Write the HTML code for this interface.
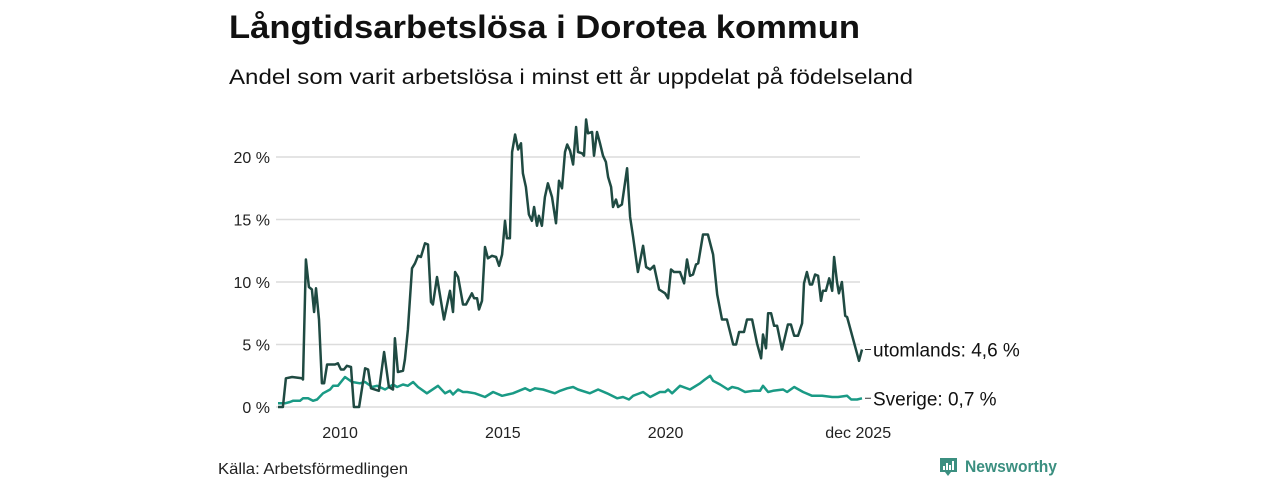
<!DOCTYPE html>
<html><head><meta charset="utf-8"><style>
html,body{margin:0;padding:0;background:#fff;}
svg{display:block;font-family:"Liberation Sans",sans-serif;}
</style></head><body>
<svg id="chart" width="1280" height="480" viewBox="0 0 1280 480">
<text x="229" y="38" font-size="32" font-weight="bold" fill="#111" textLength="631" lengthAdjust="spacingAndGlyphs">Långtidsarbetslösa i Dorotea kommun</text>
<text x="229" y="84" font-size="21" fill="#111" textLength="684" lengthAdjust="spacingAndGlyphs">Andel som varit arbetslösa i minst ett år uppdelat på födelseland</text>
<g id="grid"></g>
<g id="yticks"></g>
<g id="xticks"></g>
<g id="lines"></g>
<g id="labels"></g>
<text x="218" y="474" font-size="16" fill="#222" textLength="190" lengthAdjust="spacingAndGlyphs">Källa: Arbetsförmedlingen</text>
<g>
<path d="M940 458 h17 v14 h-6 l-3 4 l-3 -4 h-5 z" fill="#3b8f80"/>
<rect x="943" y="466" width="2" height="4" fill="#fff"/><rect x="946" y="463" width="2" height="7" fill="#fff"/><rect x="949" y="465" width="2" height="5" fill="#fff"/><rect x="952" y="461" width="2" height="9" fill="#fff"/>
<text x="965" y="472" font-size="17" font-weight="bold" fill="#3b8f80" textLength="92" lengthAdjust="spacingAndGlyphs">Newsworthy</text>
</g>
</svg>
<script>
const yTicks=[0,5,10,15,20];
const yTickLabels=["0 %","5 %","10 %","15 %","20 %"];
const xTickMonths=[24,84,144,215];
const xTickLabels=["2010","2015","2020","dec 2025"];
const foreignMonths=[0,1.8,2.9,5.2,8.8,9.2,10.3,11.4,12.5,13.3,14.0,15.1,16.2,17.0,18.1,21.0,22.1,23.2,24.3,25.4,26.9,28.0,29.9,32.1,33.2,34.3,37.2,39.1,40.9,42.4,43.1,44.2,46.1,46.8,47.9,49.4,50.5,51.6,52.7,54.2,55.3,56.4,57.1,58.6,61.2,63.4,64.5,65.3,66.4,68.2,69.3,71.5,72.3,73.4,74.1,75.2,76.3,77.4,78.9,80.4,81.5,82.6,83.7,84.4,85.5,86.3,87.4,88.5,89.6,90.3,91.4,92.5,93.6,94.4,95.5,96.2,97.3,98.4,99.5,101.0,102.5,103.6,104.7,105.8,106.6,107.7,108.8,109.9,110.6,112.1,112.8,113.6,114.3,115.8,116.5,117.6,118.7,119.8,120.9,121.7,122.8,123.5,124.6,125.4,126.8,128.7,129.8,130.9,132.7,134.6,135.7,137.2,138.6,140.5,142.7,143.8,144.9,146.0,148.2,149.7,150.8,151.9,153.0,154.1,154.9,156.7,158.5,160.4,161.9,163.7,165.5,167.8,168.9,170.0,171.8,172.9,174.8,176.6,178.1,178.8,179.9,180.7,181.8,182.9,184.0,185.8,188.0,189.1,190.3,191.7,193.2,193.9,195.0,196.1,196.9,198.0,199.1,200.2,200.9,202.0,203.2,204.3,205.0,206.1,206.8,207.9,209.1,209.8,214.2,215.3];
const foreignValues=[0,0,2.3,2.4,2.3,2.2,11.8,9.6,9.4,7.6,9.5,7.0,1.9,1.9,3.4,3.4,3.5,3.0,3.0,3.3,3.2,0,0,3.1,3.0,1.5,1.3,4.4,1.6,1.4,5.5,2.8,2.9,3.8,6.2,11.1,11.5,12.1,12.0,13.1,13.0,8.4,8.2,10.4,7.0,9.3,7.6,10.8,10.4,8.2,8.2,9.1,8.7,8.7,7.8,8.5,12.8,11.9,12.1,12.0,11.3,12.2,14.9,13.5,13.5,20.4,21.8,20.6,21.1,18.7,17.6,15.4,14.9,16.0,14.5,15.3,14.5,16.8,17.9,16.8,14.7,18.1,17.5,20.4,21.0,20.5,19.4,22.4,20.4,20.3,20.1,23.0,21.9,22.0,20.1,22.0,21.1,20.1,19.6,18.4,17.6,16.0,16.6,16.0,16.2,19.1,15.2,13.6,10.8,12.9,11.2,11.0,11.3,9.4,9.1,8.7,11.0,10.8,10.8,9.9,11.8,10.5,10.6,11.4,11.5,13.8,13.8,12.2,9.0,7.0,7.0,5.0,5.0,6.0,6.0,7.0,7.0,5.1,3.9,5.8,4.7,7.5,7.5,6.5,6.5,4.6,6.6,6.6,5.7,5.7,6.7,9.9,10.8,9.8,9.8,10.6,10.5,8.5,9.3,9.3,10.3,9.3,12.0,10.0,9.1,10.0,7.3,7.2,3.7,4.6];
const swedenMonths=[0,2.6,4.4,5.5,8.1,9.2,11.1,12.9,14.4,16.6,19.2,20.3,22.1,24.7,27.3,30.2,32.1,34.7,36.5,39.5,42.4,43.9,46.1,47.9,49.8,51.6,54.9,59.0,61.6,63.4,64.5,66.4,68.2,69.7,72.6,76.3,79.3,82.6,86.6,91.1,92.9,94.8,97.7,102.1,104.0,106.6,108.8,110.6,115.0,118.0,121.3,125.0,127.2,129.4,130.9,134.6,137.2,140.8,142.7,143.8,145.3,148.2,151.9,155.6,157.4,159.3,160.4,163.0,165.9,167.4,169.6,172.2,175.1,177.7,178.8,180.7,182.5,186.2,187.7,190.3,193.6,196.9,200.6,204.3,206.5,209.8,211.3,213.5,215.3];
const swedenValues=[0.3,0.3,0.4,0.5,0.5,0.7,0.7,0.5,0.6,1.1,1.4,1.7,1.7,2.4,2.0,1.9,2.0,1.6,1.7,1.4,1.8,1.6,1.8,1.7,2.0,1.6,1.1,1.7,1.1,1.3,1.0,1.4,1.2,1.2,1.1,0.8,1.2,0.9,1.1,1.5,1.3,1.5,1.4,1.1,1.3,1.5,1.6,1.4,1.1,1.4,1.1,0.7,0.8,0.6,0.9,1.2,0.8,1.2,1.2,1.4,1.1,1.7,1.4,1.9,2.2,2.5,2.1,1.8,1.4,1.6,1.5,1.2,1.3,1.3,1.7,1.2,1.3,1.4,1.2,1.6,1.2,0.9,0.9,0.8,0.8,0.9,0.6,0.6,0.7];
const seriesLabels=["utomlands: 4,6 %","Sverige: 0,7 %"];

const NS="http://www.w3.org/2000/svg";
const x0=278,x1=862,mMax=215.3,y0=407,pxPerPct=12.5;
const xs=m=>x0+(m/mMax)*(x1-x0);
const ys=v=>y0-v*pxPerPct;
function mk(tag,attrs,parent){const e=document.createElementNS(NS,tag);for(const k in attrs)e.setAttribute(k,attrs[k]);parent.appendChild(e);return e;}
const grid=document.getElementById('grid'),yt=document.getElementById('yticks'),xt=document.getElementById('xticks'),lines=document.getElementById('lines'),labels=document.getElementById('labels');
yTicks.forEach((v,i)=>{
  const l=mk('line',{x1:276,x2:860,y1:ys(v),y2:ys(v),stroke:'#dcdcdc','stroke-width':1.5},grid);
  
  
  const t=mk('text',{x:270,y:ys(v)+6,'text-anchor':'end','font-size':16,fill:'#222'},yt);
  t.textContent=yTickLabels[i];
  
  
});
xTickMonths.forEach((m,i)=>{
  const t=mk('text',{x:xs(m)-3,y:438,'text-anchor':'middle','font-size':16,fill:'#222'},xt);
  t.textContent=xTickLabels[i];
  
  
});
function path(ms,vs){return ms.map((m,i)=>(i?'L':'M')+xs(m).toFixed(1)+' '+ys(vs[i]).toFixed(1)).join(' ');}
const p2=mk('path',{d:path(swedenMonths,swedenValues),fill:'none',stroke:'#1a9a85','stroke-width':2.5,'stroke-linejoin':'round'},lines);


const p1=mk('path',{d:path(foreignMonths,foreignValues),fill:'none',stroke:'#1f4a42','stroke-width':2.5,'stroke-linejoin':'round'},lines);


[[foreignValues,0],[swedenValues,1]].forEach(([vs,i])=>{
  const y=ys(vs[vs.length-1]);
  mk('line',{x1:x1+3,x2:x1+9,y1:y,y2:y,stroke:'#333','stroke-width':1},labels);
  const t=mk('text',{x:x1+11,y:y+7,'font-size':19,fill:'#111'},labels);
  t.textContent=seriesLabels[i];
  
  
});
</script>
</body></html>
